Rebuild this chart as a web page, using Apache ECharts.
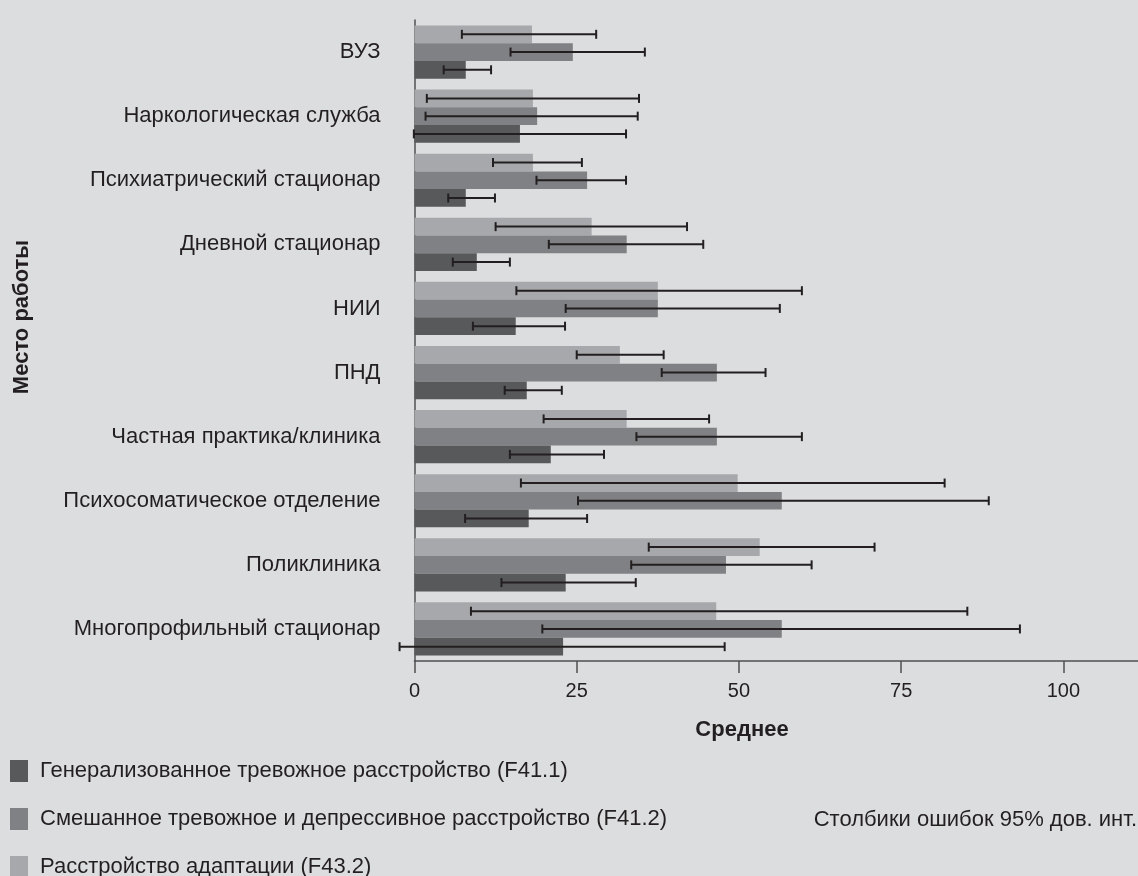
<!DOCTYPE html>
<html>
<head>
<meta charset="utf-8">
<script src="https://cdn.jsdelivr.net/npm/echarts@6/dist/echarts.min.js"></script>
<style>
html, body { margin: 0; padding: 0; background: #dcdddf; }
#chart { width: 1138px; height: 876px; }
</style>
</head>
<body>
<div id="chart"></div>
<script>
// места работы, сверху вниз
var categories = ['ВУЗ', 'Наркологическая служба', 'Психиатрический стационар', 'Дневной стационар', 'НИИ', 'ПНД',
    'Частная практика/клиника', 'Психосоматическое отделение', 'Поликлиника', 'Многопрофильный стационар'];

var names = ['Генерализованное тревожное расстройство (F41.1)',
    'Смешанное тревожное и депрессивное расстройство (F41.2)',
    'Расстройство адаптации (F43.2)'];

// F41.1
var gadMean = [7.9, 16.25, 7.9, 9.6, 15.6, 17.3, 21.0, 17.6, 23.3, 22.9];
var gadLow = [4.5, -0.1, 5.2, 5.9, 9.0, 13.9, 14.7, 7.8, 13.4, -2.3];
var gadHigh = [11.8, 32.6, 12.4, 14.7, 23.2, 22.7, 29.2, 26.6, 34.1, 47.8];

// F41.2
var mixMean = [24.4, 18.9, 26.6, 32.7, 37.5, 46.6, 46.6, 56.6, 48.0, 56.6];
var mixLow = [14.8, 1.7, 18.8, 20.7, 23.3, 38.1, 34.2, 25.2, 33.4, 19.7];
var mixHigh = [35.5, 34.4, 32.6, 44.5, 56.3, 54.1, 59.7, 88.5, 61.2, 93.3];

// F43.2
var adjMean = [18.1, 18.25, 18.25, 27.3, 37.5, 31.65, 32.7, 49.8, 53.2, 46.5];
var adjLow = [7.3, 1.9, 12.1, 12.5, 15.7, 25.0, 19.9, 16.4, 36.1, 8.7];
var adjHigh = [28.0, 34.6, 25.8, 42.0, 59.7, 38.4, 45.4, 81.7, 70.9, 85.2];

var xTicks = [0, 25, 50, 75, 100];

var colors = ['#58595b', '#808184', '#a7a8ab'];
var textColor = '#231f20';
var axisColor = '#505052';
var font = 'Liberation Sans, Arial, sans-serif';
var catGap = 0.17;

function barSeries(name, vals, color) {
    return {
        name: name,
        type: 'bar',
        data: vals,
        barGap: 0,
        barCategoryGap: (catGap * 100) + '%',
        itemStyle: { color: color },
        emphasis: { disabled: true }
    };
}

// idx: 0 - верхний столбик в группе, 2 - нижний
function errorSeries(name, idx, low, high) {
    var data = low.map(function (v, i) { return [i, v, high[i]]; });
    return {
        name: name + ' err',
        type: 'custom',
        data: data,
        z: 10,
        encode: { y: 0, x: [1, 2] },
        renderItem: function (params, api) {
            var cat = api.value(0);
            var p0 = api.coord([api.value(1), cat]);
            var p1 = api.coord([api.value(2), cat]);
            var band = api.size([0, 1])[1];
            var bw = band * (1 - catGap) / 3;
            var y = p0[1] + (idx - 1) * bw;
            var cap = 4.5;
            var style = { stroke: textColor, lineWidth: 2 };
            return {
                type: 'group',
                children: [
                    { type: 'line', shape: { x1: p0[0], y1: y, x2: p1[0], y2: y }, style: style },
                    { type: 'line', shape: { x1: p0[0], y1: y - cap, x2: p0[0], y2: y + cap }, style: style },
                    { type: 'line', shape: { x1: p1[0], y1: y - cap, x2: p1[0], y2: y + cap }, style: style }
                ]
            };
        }
    };
}

// одна строка легенды на каждую серию
function legendRow(name, top) {
    return {
        data: [name],
        left: 10,
        top: top,
        padding: 0,
        itemWidth: 18,
        itemHeight: 22,
        icon: 'rect',
        textStyle: { fontSize: 22, color: textColor, fontFamily: font, padding: [3, 0, 0, 7] }
    };
}

var chart = echarts.init(document.getElementById('chart'));
var option = {
    backgroundColor: '#dcdddf',
    animation: false,
    textStyle: { fontFamily: font, color: textColor },
    grid: { left: 414.5, right: 0, top: 20, height: 641, outerBoundsMode: 'none' },
    legend: [
        legendRow(names[0], 760),
        legendRow(names[1], 808),
        legendRow(names[2], 856)
    ],
    xAxis: {
        type: 'value',
        min: 0,
        max: 111.5,
        splitLine: { show: false },
        axisLine: { show: true, lineStyle: { color: axisColor, width: 1.5 } },
        axisTick: { show: true, customValues: xTicks, length: 12, lineStyle: { color: axisColor, width: 1.5 } },
        axisLabel: { customValues: xTicks, fontSize: 20, color: textColor, margin: 20, fontFamily: font }
    },
    yAxis: {
        type: 'category',
        inverse: true,
        data: categories,
        axisLine: { show: true, lineStyle: { color: axisColor, width: 1.5 } },
        axisTick: { show: false },
        axisLabel: { fontSize: 22, color: textColor, margin: 34, fontFamily: font }
    },
    graphic: [
        {
            type: 'text', x: 742, y: 730,
            style: { text: 'Среднее', font: 'bold 22px ' + font, fill: textColor, textAlign: 'center', textVerticalAlign: 'middle' }
        },
        {
            type: 'text', x: 22, y: 317, rotation: Math.PI / 2,
            style: { text: 'Место работы', font: 'bold 22px ' + font, fill: textColor, textAlign: 'center', textVerticalAlign: 'middle' }
        },
        {
            type: 'text', x: 1137, y: 820,
            style: { text: 'Столбики ошибок 95% дов. инт.', font: '22px ' + font, fill: textColor, textAlign: 'right', textVerticalAlign: 'middle' }
        }
    ],
    series: [
        barSeries(names[2], adjMean, colors[2]),
        barSeries(names[1], mixMean, colors[1]),
        barSeries(names[0], gadMean, colors[0]),
        errorSeries(names[2], 0, adjLow, adjHigh),
        errorSeries(names[1], 1, mixLow, mixHigh),
        errorSeries(names[0], 2, gadLow, gadHigh)
    ]
};
chart.setOption(option);
</script>
</body>
</html>
